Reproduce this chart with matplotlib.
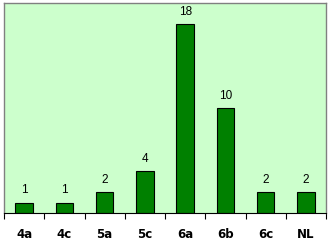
import matplotlib
matplotlib.use("Agg")
import matplotlib.pyplot as plt
import numpy as np

categories = ["4a", "4c", "5a", "5c", "6a", "6b", "6c", "NL"]
values = [1, 1, 2, 4, 18, 10, 2, 2]

fig = plt.figure(figsize=(3.30, 2.44), dpi=100)
ax = fig.add_axes([4/330, 1 - 213/244, 322/330, 210/244])
ax.set_facecolor("#CCFFCC")
x = np.arange(len(categories))
ax.bar(x, values, width=0.43, color="#008000", edgecolor="black", linewidth=0.8, zorder=2)
for xi, v in zip(x, values):
    ax.annotate(str(v), (xi, v), xytext=(0, 4.5), textcoords="offset points",
                ha="center", va="bottom", fontsize=8.5,
                family="Liberation Sans", color="black")
ax.set_xlim(-0.5, len(categories) - 0.5)
ax.set_ylim(0, 20)
ax.set_yticks([])
ax.set_xticks(np.arange(len(categories) + 1) - 0.5)
ax.set_xticklabels([])
ax.set_xticks(x, minor=True)
ax.set_xticklabels(categories, minor=True, fontsize=8.5, fontweight="bold", family="DejaVu Sans")
ax.tick_params(axis="x", which="major", direction="out", length=4, width=0.8, color="black")
ax.tick_params(axis="x", which="minor", length=0, pad=11)
for side in ["top", "right", "left"]:
    ax.spines[side].set_color("#808080")
    ax.spines[side].set_linewidth(1)
ax.spines["bottom"].set_color("black")
ax.spines["bottom"].set_linewidth(0.8)
fig.savefig("out.png", dpi=100)
